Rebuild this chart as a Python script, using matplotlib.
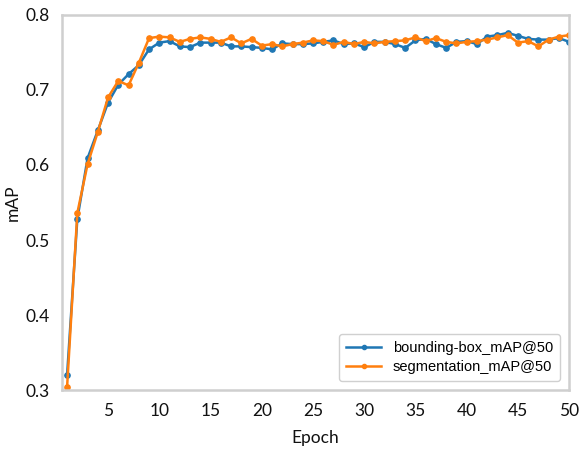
import numpy as np
import matplotlib
matplotlib.use("Agg")
import matplotlib.pyplot as plt

epochs = list(range(1, 51))
bbox_map50 = [0.320, 0.528, 0.609, 0.646, 0.683, 0.707, 0.721, 0.733, 0.754, 0.763,
              0.765, 0.758, 0.757, 0.763, 0.763, 0.763, 0.758, 0.758, 0.757, 0.756,
              0.754, 0.762, 0.761, 0.761, 0.762, 0.764, 0.766, 0.761, 0.762, 0.757,
              0.764, 0.764, 0.761, 0.756, 0.766, 0.768, 0.761, 0.756, 0.764, 0.765,
              0.761, 0.771, 0.773, 0.776, 0.772, 0.768, 0.767, 0.767, 0.769, 0.764]
seg_map50 = [0.304, 0.536, 0.601, 0.644, 0.690, 0.712, 0.706, 0.736, 0.769, 0.771,
             0.770, 0.764, 0.768, 0.770, 0.768, 0.764, 0.770, 0.762, 0.768, 0.759,
             0.761, 0.758, 0.761, 0.763, 0.766, 0.765, 0.760, 0.764, 0.761, 0.764,
             0.762, 0.764, 0.765, 0.766, 0.770, 0.765, 0.769, 0.764, 0.762, 0.764,
             0.765, 0.767, 0.770, 0.773, 0.763, 0.765, 0.758, 0.767, 0.771, 0.773]
xticks = [5, 10, 15, 20, 25, 30, 35, 40, 45, 50]
yticks = [0.3, 0.4, 0.5, 0.6, 0.7, 0.8]
series_labels = ["bounding-box_mAP@50", "segmentation_mAP@50"]

fig = plt.figure(figsize=(5.79, 4.5), dpi=100)
ax = fig.add_axes([0.107, 0.133, 0.876, 0.834])

ax.plot(epochs, bbox_map50, color="#1f77b4", lw=1.8, marker="o", ms=3.8,
        label=series_labels[0])
ax.plot(epochs, seg_map50, color="#ff7f0e", lw=1.8, marker="o", ms=3.8,
        label=series_labels[1])

ax.set_xlim(0.5, 50)
ax.set_ylim(0.3, 0.8)
ax.set_xticks(xticks)
ax.set_yticks(yticks)
ax.set_yticklabels([f"{v:.1f}" for v in yticks])

for lab in ax.get_xticklabels() + ax.get_yticklabels():
    lab.set_fontfamily("Lato")
    lab.set_fontsize(12.5)
ax.tick_params(axis="both", length=0, colors="#111111")
ax.tick_params(axis="x", pad=9)
ax.tick_params(axis="y", pad=9)

for s in ax.spines.values():
    s.set_color("#cfcfcf")
    s.set_linewidth(1.8)

ax.set_xlabel("Epoch", fontfamily="Lato", fontsize=12.5, labelpad=8, color="#111111")
ax.set_ylabel("mAP", fontfamily="Lato", fontsize=12.5, labelpad=3, color="#111111")

leg = ax.legend(loc="lower right", prop=dict(family="Liberation Sans", size=10.5),
                numpoints=1, handlelength=2.4, borderpad=0.5, labelspacing=0.3,
                fancybox=True, framealpha=1, edgecolor="#d0d0d0",
                bbox_to_anchor=(0.997, 0.005))
for h in leg.legend_handles:
    h.set_markersize(3)

fig.savefig("out.png", dpi=100)
